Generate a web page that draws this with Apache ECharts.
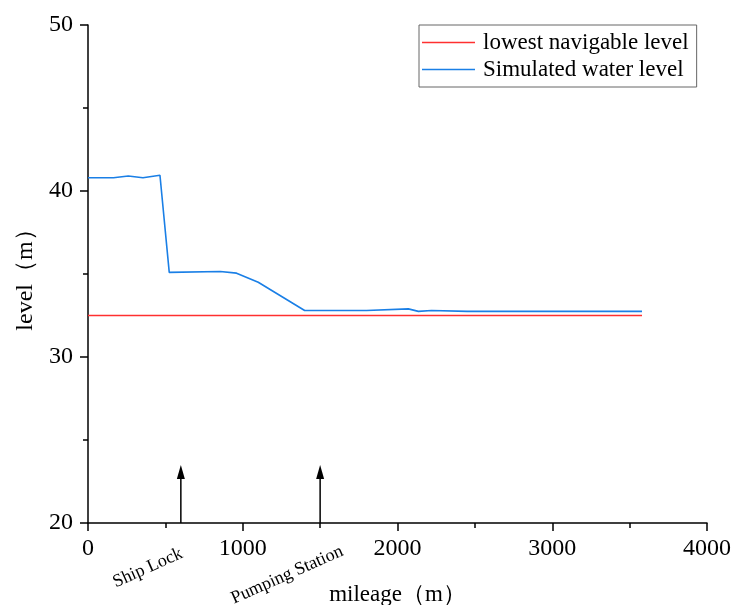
<!DOCTYPE html>
<html>
<head>
<meta charset="utf-8">
<script src="https://cdn.jsdelivr.net/npm/echarts@6/dist/echarts.min.js"></script>
<style>
  html, body { margin: 0; padding: 0; background: #fff; }
  #chart { width: 732px; height: 605px; }
</style>
</head>
<body>
<div id="chart"></div>
<script>
// 里程 (m) 与模拟水位 (m)
var mileage = [0, 165, 260, 355, 465, 525, 855, 960, 1100, 1400, 1800, 2070, 2135, 2220, 2450, 3580];
var simLevel = [40.8, 40.8, 40.9, 40.8, 40.95, 35.1, 35.15, 35.05, 34.5, 32.8, 32.8, 32.9, 32.75, 32.8, 32.75, 32.75];

// 最低通航水位
var lowestX = [0, 3580];
var lowestLevel = [32.5, 32.5];

// 标注：船闸、泵站
var markNames = ["Ship Lock", "Pumping Station"];
var markX = [600, 1500];
var arrowTop = 23.5;

var font = "'Liberation Serif', 'Times New Roman', serif";

function pairs(xs, ys) {
  var out = [];
  for (var i = 0; i < xs.length; i++) out.push([xs[i], ys[i]]);
  return out;
}

var myChart = echarts.init(document.getElementById("chart"));

var option = {
  animation: false,
  grid: { left: 88, right: 25, top: 25, bottom: 82, outerBoundsMode: "none" },
  legend: {
    orient: "vertical",
    left: 419,
    top: 25,
    width: 276,
    padding: [6, 8, 6, 3],
    itemGap: 4,
    itemWidth: 53,
    itemHeight: 1.5,
    icon: "rect",
    borderColor: "#666",
    borderWidth: 1,
    textStyle: { fontFamily: font, fontSize: 23, color: "#000", lineHeight: 23, padding: [0, 0, 0, 3] },
    data: ["lowest navigable level", "Simulated water level"]
  },
  xAxis: {
    type: "value",
    min: 0,
    max: 4000,
    interval: 1000,
    name: "mileage（m）",
    nameLocation: "middle",
    nameGap: 60,
    nameTextStyle: { fontFamily: font, fontSize: 23, color: "#000" },
    axisLine: { onZero: false, lineStyle: { color: "#000", width: 1.5 } },
    axisTick: { length: 8, lineStyle: { color: "#000", width: 1.5 } },
    minorTick: { show: true, splitNumber: 2, length: 5, lineStyle: { color: "#000", width: 1.5 } },
    splitLine: { show: false },
    axisLabel: { fontFamily: font, fontSize: 24, color: "#000", margin: 14, formatter: function (v) { return String(v); } }
  },
  yAxis: {
    type: "value",
    min: 20,
    max: 50,
    interval: 10,
    name: "level（m）",
    nameLocation: "middle",
    nameGap: 48,
    nameTextStyle: { fontFamily: font, fontSize: 24, color: "#000" },
    axisLine: { show: true, onZero: false, lineStyle: { color: "#000", width: 1.5 } },
    axisTick: { show: true, length: 8, lineStyle: { color: "#000", width: 1.5 } },
    minorTick: { show: true, splitNumber: 2, length: 5, lineStyle: { color: "#000", width: 1.5 } },
    splitLine: { show: false },
    axisLabel: { fontFamily: font, fontSize: 24, color: "#000", margin: 15 }
  },
  series: [
    {
      name: "lowest navigable level",
      type: "line",
      symbol: "none",
      data: pairs(lowestX, lowestLevel),
      lineStyle: { color: "#ff3030", width: 1.5 },
      itemStyle: { color: "#ff3030" }
    },
    {
      name: "Simulated water level",
      type: "line",
      symbol: "none",
      data: pairs(mileage, simLevel),
      lineStyle: { color: "#1a7fe6", width: 1.6 },
      itemStyle: { color: "#1a7fe6" }
    }
  ]
};

myChart.setOption(option);

// 箭头和倾斜文字
var graphics = [];
for (var i = 0; i < markX.length; i++) {
  var base = myChart.convertToPixel({ gridIndex: 0 }, [markX[i], 20]);
  var tip = myChart.convertToPixel({ gridIndex: 0 }, [markX[i], arrowTop]);
  graphics.push({
    type: "line",
    shape: { x1: base[0], y1: base[1], x2: tip[0], y2: tip[1] + 12 },
    style: { stroke: "#000", lineWidth: 1.5 }
  });
  graphics.push({
    type: "polygon",
    shape: { points: [[tip[0], tip[1]], [tip[0] - 4, tip[1] + 14], [tip[0] + 4, tip[1] + 14]] },
    style: { fill: "#000" }
  });
  graphics.push({
    type: "text",
    x: base[0] - 33,
    y: base[1] + (i === 0 ? 45 : 52),
    rotation: 24 * Math.PI / 180,
    style: {
      text: markNames[i],
      font: "18px " + font,
      fill: "#000",
      align: "center",
      verticalAlign: "middle"
    }
  });
}
myChart.setOption({ graphic: graphics });
</script>
</body>
</html>
